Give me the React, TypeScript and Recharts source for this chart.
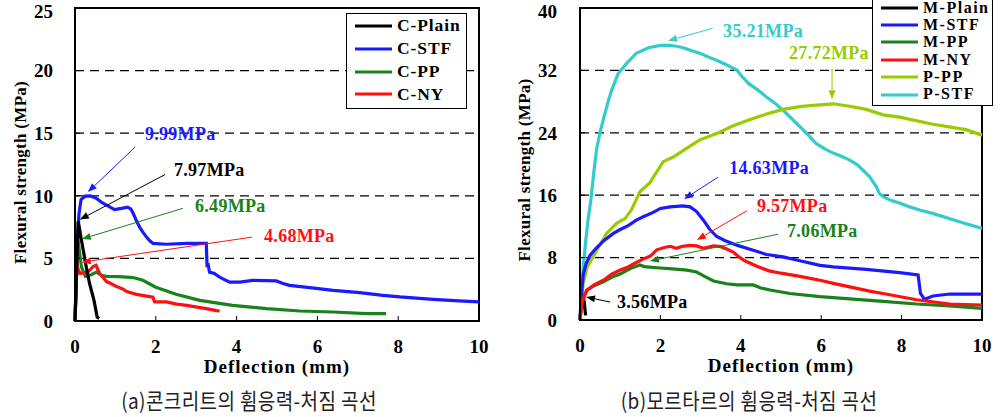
import {
  LineChart,
  Line,
  XAxis,
  YAxis,
  CartesianGrid,
  ReferenceArea,
  ReferenceLine,
  ReferenceDot,
  Legend,
} from 'recharts'

type Pt = [number, number]

const SERIF = '"Liberation Serif", "Times New Roman", serif'

const xTicks = [0, 2, 4, 6, 8, 10]

// (a) concrete — deflection (mm), flexural strength (MPa)
const concreteTicks = [0, 5, 10, 15, 20, 25]

const cPlain: Pt[] = [
  [0, 0], [0.04, 4], [0.08, 7.97], [0.16, 6.45], [0.28, 4.3], [0.36, 3.0], [0.47, 1.65], [0.55, 0.3], [0.6, 0.2],
]

const cStf: Pt[] = [
  [0, 0], [0.03, 3], [0.06, 6.5], [0.1, 8.6], [0.15, 9.7], [0.25, 9.97], [0.38, 9.99], [0.53, 9.8], [0.65, 9.5],
  [0.78, 9.25], [0.98, 8.9], [1.15, 9.0], [1.3, 9.1], [1.38, 8.95], [1.44, 8.6], [1.52, 8.0], [1.6, 7.5],
  [1.68, 7.1], [1.77, 6.7], [1.85, 6.4], [1.93, 6.2], [2.26, 6.13], [2.76, 6.2], [3.25, 6.2], [3.26, 5.2],
  [3.27, 4.3], [3.29, 4.6], [3.33, 3.9], [3.45, 3.8], [3.58, 3.5], [3.7, 3.3], [3.83, 3.1], [4.08, 3.1],
  [4.4, 3.25], [4.98, 3.2], [5.15, 3.0], [5.31, 2.85], [5.81, 2.67], [6.39, 2.45], [7.05, 2.27], [7.62, 2.05],
  [8.04, 1.92], [8.86, 1.73], [9.5, 1.6], [10, 1.52],
]

const cPp: Pt[] = [
  [0, 0], [0.03, 2.5], [0.05, 5.5], [0.07, 6.49], [0.1, 5.8], [0.16, 4.3], [0.26, 3.57], [0.4, 3.7], [0.53, 3.9],
  [0.65, 3.65], [0.78, 3.57], [1.1, 3.55], [1.44, 3.47], [1.68, 3.25], [2.0, 2.7], [2.5, 2.13], [3.09, 1.65],
  [3.9, 1.25], [4.74, 0.99], [5.56, 0.8], [6.39, 0.72], [7.2, 0.59], [7.7, 0.59],
]

const cNy: Pt[] = [
  [0, 0], [0.02, 2.5], [0.04, 4.68], [0.07, 4.2], [0.12, 3.8], [0.25, 3.85], [0.35, 4.0], [0.45, 4.35],
  [0.52, 4.45], [0.61, 3.8], [0.78, 3.15], [0.86, 3.04], [1.0, 2.8], [1.19, 2.55], [1.28, 2.35], [1.52, 2.13],
  [1.93, 1.9], [1.97, 1.52], [2.26, 1.52], [2.52, 1.35], [2.76, 1.25], [3.25, 0.99], [3.5, 0.83], [3.58, 0.8],
]

// (b) mortar
const mortarTicks = [0, 8, 16, 24, 32, 40]

const mPlain: Pt[] = [[0, 0], [0.03, 2], [0.06, 3.56], [0.1, 2.5], [0.14, 0.6]]

const mStf: Pt[] = [
  [0, 0], [0.04, 3.5], [0.08, 5.8], [0.15, 7.2], [0.25, 8.3], [0.4, 9.2], [0.6, 10.2], [0.83, 11.1], [1.0, 11.6],
  [1.2, 12.1], [1.4, 12.8], [1.6, 13.3], [1.82, 13.8], [2.0, 14.3], [2.24, 14.5], [2.56, 14.63], [2.74, 14.5],
  [2.9, 13.9], [3.07, 12.8], [3.23, 11.6], [3.4, 10.7], [3.6, 10.2], [3.9, 9.6], [4.23, 9.06], [4.64, 8.4],
  [5.05, 8.1], [5.47, 7.6], [5.97, 7.0], [6.3, 6.8], [7.12, 6.5], [7.95, 6.07], [8.41, 5.77], [8.47, 3.4],
  [8.57, 2.65], [8.78, 3.08], [9.2, 3.33], [10, 3.33],
]

const mPp: Pt[] = [
  [0, 0], [0.05, 2.5], [0.17, 3.8], [0.35, 4.4], [0.58, 4.9], [0.8, 5.5], [1.0, 5.9], [1.25, 6.6], [1.49, 7.06],
  [1.6, 6.85], [1.91, 6.7], [2.3, 6.55], [2.66, 6.4], [2.9, 6.15], [3.1, 5.6], [3.32, 5.0], [3.65, 4.65],
  [3.9, 4.5], [4.31, 4.5], [4.5, 4.1], [4.73, 3.85], [5.22, 3.4], [5.97, 3.0], [6.71, 2.7], [7.54, 2.4],
  [8.37, 2.05], [9.2, 1.8], [10, 1.5],
]

const mNy: Pt[] = [
  [0, 0], [0.05, 2.2], [0.17, 3.85], [0.35, 4.5], [0.58, 5.1], [0.8, 5.9], [1.0, 6.4], [1.2, 6.8], [1.41, 7.4],
  [1.61, 7.9], [1.75, 8.2], [1.91, 9.0], [2.1, 9.3], [2.24, 9.45], [2.4, 9.2], [2.55, 9.45], [2.74, 9.57],
  [2.9, 9.5], [3.07, 9.2], [3.32, 9.5], [3.5, 9.4], [3.65, 9.1], [3.81, 8.7], [3.95, 8.1], [4.1, 7.6],
  [4.4, 6.9], [4.7, 6.3], [5.0, 6.0], [5.47, 5.6], [5.97, 5.1], [6.3, 4.7], [6.71, 4.25], [7.2, 3.7],
  [7.54, 3.4], [8.37, 2.6], [9.2, 2.05], [10, 1.92],
]

const pPp: Pt[] = [
  [0, 0], [0.08, 4.7], [0.18, 6.8], [0.37, 8.5], [0.66, 11.1], [0.91, 12.4], [1.12, 13.0], [1.28, 14.1],
  [1.49, 16.45], [1.74, 17.6], [2.07, 20.3], [2.32, 20.9], [2.65, 22.0], [2.98, 23.1], [3.4, 23.9],
  [3.81, 24.9], [4.23, 25.7], [4.64, 26.4], [5.05, 27.0], [5.47, 27.35], [5.88, 27.56], [6.3, 27.72],
  [6.71, 27.4], [7.12, 27.0], [7.54, 26.3], [7.95, 26.0], [8.78, 25.1], [9.6, 24.4], [10, 23.7],
]

const pStf: Pt[] = [
  [0, 0], [0.03, 3], [0.08, 6.8], [0.14, 10], [0.2, 12.8], [0.27, 15.4], [0.34, 18.8], [0.41, 21.8],
  [0.5, 24.1], [0.6, 26.1], [0.7, 28], [0.79, 29.5], [0.95, 31.6], [1.16, 32.9], [1.4, 34.2], [1.7, 34.9],
  [2.0, 35.2], [2.2, 35.21], [2.4, 35.1], [2.57, 34.9], [2.8, 34.5], [2.98, 34.2], [3.2, 33.7], [3.4, 33.3],
  [3.65, 32.7], [3.9, 32.05], [4.05, 31.1], [4.2, 30.3], [4.42, 29.5], [4.64, 28.6], [4.85, 27.8],
  [5.05, 26.9], [5.25, 25.9], [5.47, 24.8], [5.68, 23.7], [5.88, 22.6], [6.1, 21.9], [6.3, 21.4],
  [6.5, 21.0], [6.71, 20.5], [6.9, 19.9], [7.04, 19.2], [7.2, 18.4], [7.37, 17.1], [7.45, 16.2],
  [7.54, 15.8], [7.75, 15.3], [7.95, 15.0], [8.2, 14.5], [8.45, 14.1], [8.75, 13.7], [9.03, 13.25],
  [9.5, 12.5], [10, 11.75],
]

// peak callouts: arrow tail (from), arrow head (to), text start (at)
const concreteNotes = [
  { series: 'C-STF', label: '9.99MPa', from: [1.49, 13.9], to: [0.32, 10.3], at: [1.73, 14.96] },
  { series: 'C-Plain', label: '7.97MPa', from: [2.23, 11.7], to: [0.12, 8.1], at: [2.45, 12.08] },
  { series: 'C-PP', label: '6.49MPa', from: [2.67, 9.0], to: [0.17, 6.55], at: [2.97, 9.2] },
  { series: 'C-NY', label: '4.68MPa', from: [4.38, 6.7], to: [0.17, 4.7], at: [4.68, 6.8] },
]

const mortarNotes = [
  { series: 'P-STF', label: '35.21MPa', from: [3.3, 37.4], to: [2.19, 35.8], at: [3.56, 37.05] },
  { series: 'P-PP', label: '27.72MPa', from: [6.27, 32.3], to: [6.27, 28.3], at: [5.2, 34.2] },
  { series: 'M-STF', label: '14.63MPa', from: [3.43, 18.3], to: [2.59, 15.5], at: [3.71, 19.5] },
  { series: 'M-NY', label: '9.57MPa', from: [4.15, 14.0], to: [2.91, 10.26], at: [4.4, 14.6] },
  { series: 'M-PP', label: '7.06MPa', from: [4.93, 11.0], to: [1.74, 7.56], at: [5.15, 11.4] },
  { series: 'M-Plain', label: '3.56MPa', from: [0.75, 2.3], to: [0.15, 2.95], at: [0.92, 2.3] },
]

const COLORS: Record<string, string> = {
  'C-Plain': '#000000',
  'C-STF': '#1a1aff',
  'C-PP': '#1a821a',
  'C-NY': '#ff1010',
  'M-Plain': '#000000',
  'M-STF': '#1a1aff',
  'M-PP': '#1a821a',
  'M-NY': '#ff1010',
  'P-PP': '#99cc00',
  'P-STF': '#33cccc',
}

interface Series {
  name: string
  data: Pt[]
}

const concreteSeries: Series[] = [
  { name: 'C-STF', data: cStf },
  { name: 'C-PP', data: cPp },
  { name: 'C-NY', data: cNy },
  { name: 'C-Plain', data: cPlain },
]
const concreteLegend = ['C-Plain', 'C-STF', 'C-PP', 'C-NY']

const mortarSeries: Series[] = [
  { name: 'M-Plain', data: mPlain },
  { name: 'P-STF', data: pStf },
  { name: 'P-PP', data: pPp },
  { name: 'M-STF', data: mStf },
  { name: 'M-PP', data: mPp },
  { name: 'M-NY', data: mNy },
]
const mortarLegend = ['M-Plain', 'M-STF', 'M-PP', 'M-NY', 'P-PP', 'P-STF']

const toRows = (pts: Pt[]) => pts.map(([x, y]) => ({ x, y }))

const arrowShape = (color: string) => (props: any) => {
  const { x1, y1, x2, y2 } = props
  const ang = Math.atan2(y2 - y1, x2 - x1)
  const len = 9
  const half = 3.5
  const bx = x2 - len * Math.cos(ang)
  const by = y2 - len * Math.sin(ang)
  const pts = [
    `${x2},${y2}`,
    `${bx - half * Math.sin(ang)},${by + half * Math.cos(ang)}`,
    `${bx + half * Math.sin(ang)},${by - half * Math.cos(ang)}`,
  ].join(' ')
  return (
    <g>
      <line x1={x1} y1={y1} x2={bx} y2={by} stroke={color} strokeWidth={1} />
      <polygon points={pts} fill={color} />
    </g>
  )
}

const noteText = (label: string, color: string) => (props: any) => (
  <text
    x={props.cx}
    y={props.cy}
    fill={color}
    dominantBaseline="central"
    style={{ fontFamily: SERIF, fontWeight: 700, fontSize: 18, letterSpacing: 0.3 }}
  >
    {label}
  </text>
)

interface LegendBoxProps {
  names: string[]
  rowH: number
  fontSize: number
  spacing: number
  padTop: number
}

function LegendBox({ names, rowH, fontSize, spacing, padTop }: LegendBoxProps) {
  return (
    <div
      style={{
        border: '1.5px solid #000',
        background: '#fff',
        width: 121,
        boxSizing: 'border-box',
        paddingTop: padTop,
        paddingBottom: 2,
      }}
    >
      {names.map((n) => (
        <div key={n} style={{ display: 'flex', alignItems: 'center', height: rowH }}>
          <svg width={46} height={6} style={{ flex: 'none' }}>
            <line x1={8} y1={3} x2={45} y2={3} stroke={COLORS[n]} strokeWidth={3} />
          </svg>
          <span
            style={{
              marginLeft: 4,
              fontFamily: SERIF,
              fontWeight: 700,
              fontSize,
              letterSpacing: spacing,
              lineHeight: 0.9,
              whiteSpace: 'nowrap',
            }}
          >
            {n}
          </span>
        </div>
      ))}
    </div>
  )
}

const tickStyle = { fill: '#000', fontSize: 19, fontWeight: 700, fontFamily: SERIF }
const axisLabelStyle = { fontFamily: SERIF, fontWeight: 700, fill: '#000' }

interface PanelProps {
  width: number
  axisW: number
  marginRight: number
  yMax: number
  yTicks: number[]
  series: Series[]
  legend: string[]
  notes: { series: string; label: string; from: number[]; to: number[]; at: number[] }[]
  legendLeft: number
  legendTop: number
  rowH: number
  legendFont: number
  legendSpacing: number
  legendPad: number
  yLabelX: number
  yLabelShift: number
  tickMargin: number
}

function Panel(p: PanelProps) {
  return (
    <LineChart width={p.width} height={390} margin={{ top: 8, right: p.marginRight, left: 0, bottom: 0 }}>
      <CartesianGrid vertical={false} stroke="#000" strokeDasharray="9 6" strokeWidth={1.2} />
      <XAxis
        type="number"
        dataKey="x"
        domain={[0, 10]}
        ticks={xTicks}
        height={390 - 8 - 313 + (p.yMax === 40 ? 1 : 0)}
        tickSize={-5}
        tickMargin={24}
        tick={tickStyle}
        tickLine={{ stroke: '#000', strokeWidth: 1 }}
        axisLine={{ stroke: '#000', strokeWidth: 2 }}
        label={{
          content: ({ viewBox }: any) => (
            <text
              x={viewBox.x + viewBox.width / 2}
              y={viewBox.y + 52}
              textAnchor="middle"
              style={{ ...axisLabelStyle, fontSize: 19, letterSpacing: 1 }}
            >
              Deflection (mm)
            </text>
          ),
        }}
      />
      <YAxis
        type="number"
        domain={[0, p.yMax]}
        ticks={p.yTicks}
        width={p.axisW}
        tickSize={-5}
        tickMargin={p.tickMargin}
        tick={tickStyle}
        tickLine={{ stroke: '#000', strokeWidth: 1 }}
        axisLine={{ stroke: '#000', strokeWidth: 2 }}
        label={{
          content: ({ viewBox }: any) => (
            <text
              transform={`translate(${viewBox.x + p.yLabelX}, ${viewBox.y + viewBox.height / 2 + p.yLabelShift}) rotate(-90)`}
              textAnchor="middle"
              dominantBaseline="central"
              style={{ ...axisLabelStyle, fontSize: 17, letterSpacing: 0.3 }}
            >
              Flexural strength (MPa)
            </text>
          ),
        }}
      />
      <ReferenceArea
        x1={0}
        x2={10}
        y1={0}
        y2={p.yMax}
        fill="none"
        stroke="#000"
        strokeWidth={2}
        ifOverflow="visible"
      />
      {p.series.map((s) => (
        <Line
          key={s.name}
          data={toRows(s.data)}
          dataKey="y"
          name={s.name}
          type="linear"
          stroke={COLORS[s.name]}
          strokeWidth={3.2}
          dot={false}
          isAnimationActive={false}
        />
      ))}
      {p.notes.map((n) => (
        <ReferenceLine
          key={n.label + '-arrow'}
          segment={[
            { x: n.from[0], y: n.from[1] },
            { x: n.to[0], y: n.to[1] },
          ]}
          ifOverflow="visible"
          shape={arrowShape(COLORS[n.series])}
        />
      ))}
      {p.notes.map((n) => (
        <ReferenceDot
          key={n.label + '-text'}
          x={n.at[0]}
          y={n.at[1]}
          r={0}
          ifOverflow="visible"
          shape={noteText(n.label, COLORS[n.series])}
        />
      ))}
      <Legend
        layout="vertical"
        align="center"
        verticalAlign="middle"
        wrapperStyle={{ left: p.legendLeft, top: p.legendTop, width: 121, height: 'auto' }}
        content={() => (
          <LegendBox
            names={p.legend}
            rowH={p.rowH}
            fontSize={p.legendFont}
            spacing={p.legendSpacing}
            padTop={p.legendPad}
          />
        )}
      />
    </LineChart>
  )
}

const captionStyle: React.CSSProperties = {
  position: 'absolute',
  top: 390,
  width: 320,
  textAlign: 'center',
  fontFamily: '"Noto Sans CJK KR", sans-serif',
  fontSize: 19,
  letterSpacing: 0.4,
  lineHeight: '20px',
  color: '#222',
  transform: 'scaleY(1.12)',
}

export default function App() {
  return (
    <div style={{ position: 'absolute', left: 0, top: 0, width: 1007, height: 417, background: '#fff', overflow: 'hidden' }}>
      <div style={{ position: 'absolute', left: 0, top: 0 }}>
        <Panel
          width={500}
          axisW={75}
          marginRight={21}
          yMax={25}
          yTicks={concreteTicks}
          series={concreteSeries}
          legend={concreteLegend}
          notes={concreteNotes}
          legendLeft={346}
          legendTop={13}
          rowH={22.7}
          legendFont={17.5}
          legendSpacing={0.9}
          legendPad={1}
          yLabelX={20}
          yLabelShift={8}
          tickMargin={27}
        />
      </div>
      <div style={{ position: 'absolute', left: 500, top: 0 }}>
        <Panel
          width={507}
          axisW={80}
          marginRight={25}
          yMax={40}
          yTicks={mortarTicks}
          series={mortarSeries}
          legend={mortarLegend}
          notes={mortarNotes}
          legendLeft={372}
          legendTop={-2}
          rowH={17.4}
          legendFont={16}
          legendSpacing={1.5}
          legendPad={0}
          yLabelX={24}
          yLabelShift={6}
          tickMargin={28}
        />
      </div>
      <div style={{ ...captionStyle, left: 89 }}>(a)콘크리트의 휨응력-처짐 곡선</div>
      <div style={{ ...captionStyle, left: 589 }}>(b)모르타르의 휨응력-처짐 곡선</div>
    </div>
  )
}
